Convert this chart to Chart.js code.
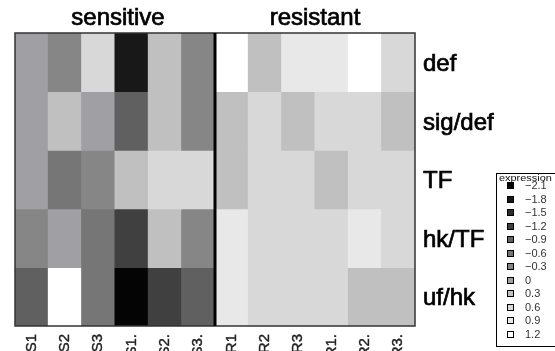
<!DOCTYPE html>
<html>
<head>
<meta charset="utf-8">
<script src="https://cdn.jsdelivr.net/npm/chart.js@4/dist/chart.umd.min.js"></script>
<style>
html,body{margin:0;padding:0;background:#fff;}
#wrap{width:555px;height:351px;overflow:hidden;}
</style>
</head>
<body>
<div id="wrap"><canvas id="c" width="555" height="351"></canvas></div>
<script>
// ---- data ----
const columns = ['S1','S2','S3','S1.','S2.','S3.','R1','R2','R3','R1.','R2.','R3.'];
const rowLabels = ['def','sig/def','TF','hk/TF','uf/hk'];
const panelTitles = ['sensitive','resistant'];
const defValues    = [0, -0.3, 0.6, -1.8, 0.3, -0.3, 1.2, 0.3, 0.9, 0.9, 1.2, 0.6];
const sigDefValues = [0, 0.3, 0, -0.9, 0.3, -0.3, 0.3, 0.6, 0.3, 0.6, 0.6, 0.3];
const tfValues     = [0, -0.6, -0.3, 0.3, 0.6, 0.6, 0.3, 0.6, 0.6, 0.3, 0.6, 0.6];
const hkTfValues   = [-0.3, 0, -0.6, -1.2, 0.3, -0.3, 0.9, 0.6, 0.6, 0.6, 0.9, 0.6];
const ufHkValues   = [-0.9, 1.2, -0.6, -2.1, -1.2, -0.9, 0.9, 0.6, 0.6, 0.6, 0.3, 0.3];
const legendLevels = [-2.1, -1.8, -1.5, -1.2, -0.9, -0.6, -0.3, 0, 0.3, 0.6, 0.9, 1.2];
const legendLabels = ['\u22122.1','\u22121.8','\u22121.5','\u22121.2','\u22120.9','\u22120.6','\u22120.3','0','0.3','0.6','0.9','1.2'];
const legendTitle = 'expression';

// ---- styling ----
const palette = ['#040404','#181818','#2c2c2c','#404040','#606060','#767676','#868686','#a0a0a4','#c0c0c0','#d8d8d8','#e8e8e8','#ffffff'];
function colorFor(v){
  let idx = Math.round((v - legendLevels[0]) / 0.3);
  idx = Math.max(0, Math.min(palette.length - 1, idx));
  return palette[idx];
}
const rowValues = [defValues, sigDefValues, tfValues, hkTfValues, ufHkValues];
const datasets = rowValues.map((vals, r) => ({
  label: rowLabels[r],
  data: vals.map(() => [r, r + 1]),
  backgroundColor: vals.map(colorFor),
  borderWidth: 0,
  barPercentage: 1,
  categoryPercentage: 1,
  grouped: false,
  inflateAmount: 0.5
}));

const FONT = "'Liberation Sans', Arial, sans-serif";

const decor = {
  id: 'decor',
  afterDatasetsDraw(chart){
    const ctx = chart.ctx, a = chart.chartArea, xs = chart.scales.x;
    ctx.save();
    // outer border
    ctx.strokeStyle = '#333';
    ctx.lineWidth = 1.5;
    ctx.strokeRect(a.left, a.top, a.right - a.left, a.bottom - a.top);
    // panel separator
    const sep = (xs.getPixelForValue(5) + xs.getPixelForValue(6)) / 2;
    ctx.strokeStyle = '#000';
    ctx.lineWidth = 3;
    ctx.beginPath(); ctx.moveTo(sep, a.top); ctx.lineTo(sep, a.bottom); ctx.stroke();
    // panel titles
    ctx.fillStyle = '#000';
    ctx.strokeStyle = '#000';
    ctx.lineWidth = 0.7;
    ctx.font = '24px ' + FONT;
    ctx.textAlign = 'center';
    ctx.textBaseline = 'alphabetic';
    const t1x = (a.left + sep) / 2 + 3, t2x = (sep + a.right) / 2;
    ctx.fillText(panelTitles[0], t1x, 25);
    ctx.strokeText(panelTitles[0], t1x, 25);
    ctx.fillText(panelTitles[1], t2x, 25);
    ctx.strokeText(panelTitles[1], t2x, 25);
    // legend
    const bx = 496.5, by = 173.5, bw = 70, bh = 173;
    ctx.strokeStyle = '#000';
    ctx.lineWidth = 1;
    ctx.strokeRect(bx, by, bw, bh);
    ctx.textAlign = 'left';
    ctx.fillStyle = '#111';
    ctx.save();
    ctx.translate(499, 181);
    ctx.scale(1.15, 1);
    ctx.font = '9.5px ' + FONT;
    ctx.fillText(legendTitle, 0, 0);
    ctx.restore();
    ctx.font = '11px ' + FONT;
    legendLevels.forEach((lv, i) => {
      const cy = 185.5 + i * 13.5;
      const top = Math.round(cy - 3.5);
      ctx.fillStyle = colorFor(lv);
      ctx.fillRect(507, top, 7, 7);
      ctx.strokeStyle = '#000';
      ctx.lineWidth = 1;
      ctx.strokeRect(507.5, top + 0.5, 6, 6);
      ctx.fillStyle = '#333';
      ctx.textBaseline = 'middle';
      ctx.fillText(legendLabels[i], 525, cy + 0.5);
    });
    ctx.restore();
  }
};

new Chart(document.getElementById('c'), {
  type: 'bar',
  data: { labels: columns, datasets },
  options: {
    responsive: false,
    animation: false,
    devicePixelRatio: 1,
    layout: { padding: { left: 15, top: 33, right: 0, bottom: 0 } },
    plugins: { legend: { display: false }, tooltip: { enabled: false }, title: { display: false } },
    scales: {
      x: {
        grid: { display: false, drawTicks: false },
        border: { display: false },
        ticks: {
          autoSkip: false, minRotation: 90, maxRotation: 90, padding: 8,
          color: '#222', font: { family: FONT, size: 15 },
          textStrokeColor: '#222', textStrokeWidth: 0.4
        },
        afterFit(scale){ scale.height = 25; }
      },
      y: {
        position: 'right',
        min: 0, max: 5,
        reverse: true,
        grid: { display: false, drawTicks: false },
        border: { display: false },
        afterBuildTicks(scale){ scale.ticks = [0.5,1.5,2.5,3.5,4.5].map(v => ({ value: v })); },
        ticks: {
          autoSkip: false, padding: 8, color: '#000', labelOffset: 2,
          font: { family: FONT, size: 24 },
          textStrokeColor: '#000', textStrokeWidth: 0.7,
          callback(v){ return rowLabels[Math.floor(v)]; }
        },
        afterFit(scale){ scale.width = 140; }
      }
    }
  },
  plugins: [decor]
});
</script>
</body>
</html>
